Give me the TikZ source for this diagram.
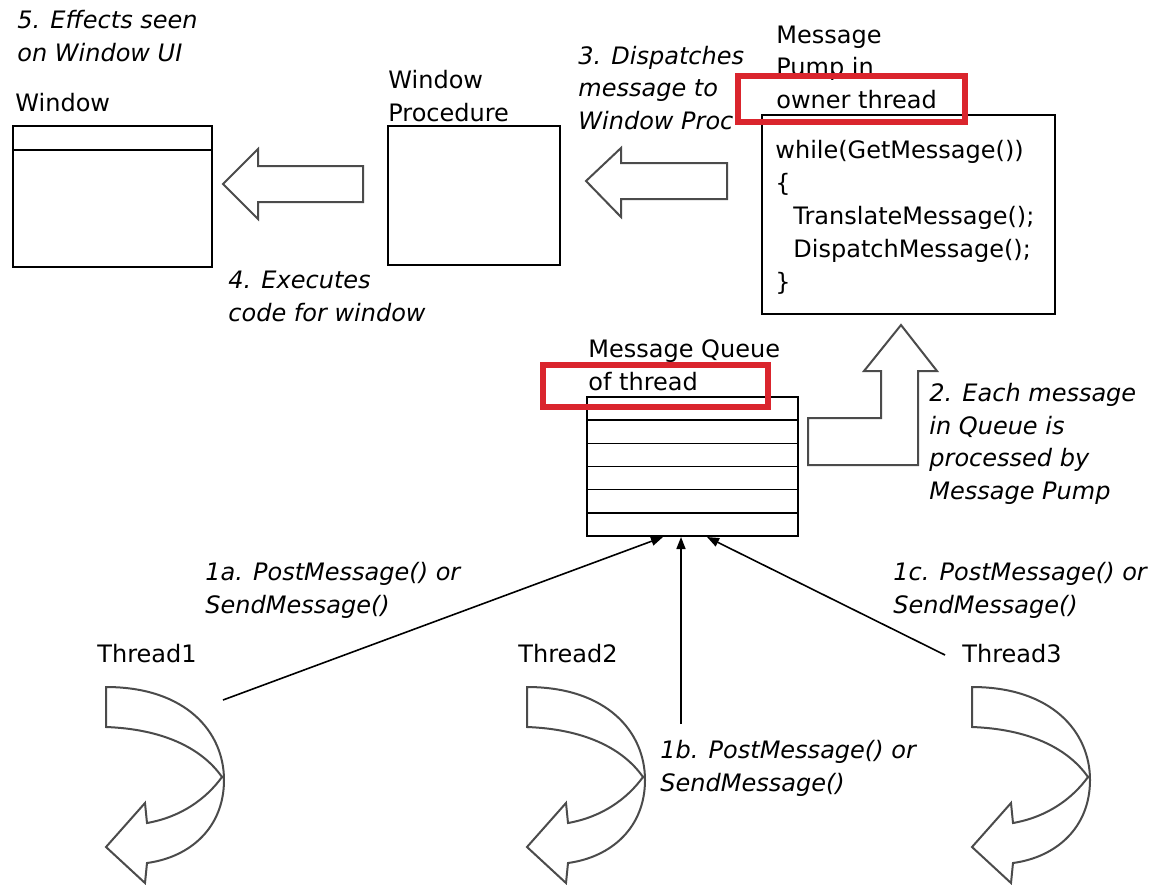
\documentclass[tikz,border=0pt]{standalone}
\usepackage{fontspec}
\setmainfont{DejaVu Sans}
\usetikzlibrary{arrows.meta}
\definecolor{hilite}{RGB}{218,37,45}
\definecolor{blockline}{RGB}{75,75,75}
\begin{document}
\begin{tikzpicture}[x=0.5pt,y=-0.5pt,
  lbl/.style={anchor=base west,inner sep=0pt,align=left,
    font=\fontsize{12}{16.25}\selectfont},
  note/.style={lbl,font=\fontsize{12}{16.25}\selectfont\itshape},
  box/.style={draw,line width=0.8pt,inner sep=0pt},
  blockarrow/.style={draw=blockline,line width=1pt,fill=white,line join=miter},
  hilitebox/.style={draw=hilite,line width=2.6pt},
  conn/.style={line width=0.8pt,-{Triangle[length=6pt,width=4.5pt]}},
  twist/.pic={
    \draw[blockarrow]
      (0,40) -- (0,0)
      .. controls (80,0) and (118,45) .. (118,93)
      .. controls (118,140) and (85,170) .. (41,176)
      -- (39,196) -- (0,160) -- (39,116) -- (41,136)
      .. controls (75,130) and (100,112) .. (116,90)
      .. controls (95,60) and (55,42) .. (0,40) -- cycle;
  }]
\useasboundingbox (0,0) rectangle (1166,884);

% multi-line labels are placed by the baseline of their last line

% window and its title bar
\node[box,minimum width=99.5pt,minimum height=70.5pt] (win) at (112.5,196.5) {};
\draw[line width=0.8pt] (win.west |- 0,150) -- (win.east |- 0,150);
\node[lbl] (winlbl) at (15,111) {Window};
\node[note] (step5) at (17,61) {5. Effects seen\\on Window UI};

% window procedure
\node[box,minimum width=86pt,minimum height=69.5pt] (proc) at (474,195.5) {};
\node[lbl] (proclbl) at (388,121) {Window\\Procedure};
\node[note] (step4) at (228,321) {4. Executes\\code for window};

% message pump
\node[box,minimum width=146.5pt,minimum height=99.5pt] (pump) at (908.5,214.5) {};
\node[lbl,font=\fontsize{12}{16.5}\selectfont] (code) at (775,290)
  {while(GetMessage())\\\{\\\hspace*{9pt}TranslateMessage();\\\hspace*{9pt}DispatchMessage();\\\}};
\node[lbl] (pumplbl) at (776,108) {Message\\Pump in\\owner thread};
\node[note] (step3) at (578,129) {3. Dispatches\\message to\\Window Proc};

% message queue with its slots
\node[box,minimum width=105.5pt,minimum height=69.5pt] (queue) at (692.5,466.5) {};
\foreach \k in {1,...,5}
  \draw[line width=0.8pt] (queue.west |- 0,{397+\k*23.17}) -- (queue.east |- 0,{397+\k*23.17});
\node[lbl] (queuelbl) at (588,390) {Message Queue\\of thread};
\node[note] (step2) at (929,499) {2. Each message\\in Queue is\\processed by\\Message Pump};

% block arrows between the stages
\draw[blockarrow] (223,184) -- (258,149) -- (258,166) -- (363,166)
  -- (363,202) -- (258,202) -- (258,219) -- cycle;
\draw[blockarrow] (586,181) -- (621,148) -- (621,163) -- (727,163)
  -- (727,199) -- (621,199) -- (621,217) -- cycle;
\draw[blockarrow] (808,418) -- (881,418) -- (881,371) -- (864,371)
  -- (901,325) -- (937,371) -- (918,371) -- (918,465) -- (808,465) -- cycle;

% highlights
\draw[hilitebox] (738,76) rectangle (965,122);
\draw[hilitebox] (543,365) rectangle (768,407);

% threads
\pic at (106,687) {twist};
\pic at (527,687) {twist};
\pic at (972,687) {twist};
\node[lbl] (th1) at (97,662) {Thread1};
\node[lbl] (th2) at (518,662) {Thread2};
\node[lbl] (th3) at (962,662) {Thread3};

% posting messages into the queue
\coordinate (src1) at (223,700);
\coordinate (src2) at (681,724);
\coordinate (src3) at (945,655);
\coordinate (in1) at (663,537);
\coordinate (in2) at (681,537);
\coordinate (in3) at (707,537);
\draw[conn] (src1) -- (in1);
\draw[conn] (src2) -- (in2);
\draw[conn] (src3) -- (in3);
\node[note] (step1a) at (205,613) {1a. PostMessage() or\\SendMessage()};
\node[note] (step1b) at (660,791) {1b. PostMessage() or\\SendMessage()};
\node[note] (step1c) at (893,613) {1c. PostMessage() or\\SendMessage()};
\end{tikzpicture}
\end{document}
